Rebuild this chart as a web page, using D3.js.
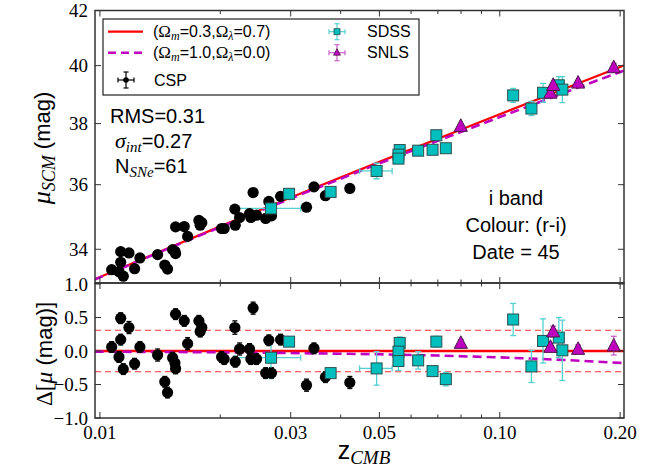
<!DOCTYPE html>
<html><head><meta charset="utf-8">
<script src="https://cdn.jsdelivr.net/npm/d3@7"></script>
<style>body{margin:0;background:#fff}</style>
</head><body><svg id="c" width="668" height="472"></svg>
<script>
// ---------- data ----------
const cspZ  = [0.01070,0.01127,0.01127,0.01182,0.01116,0.01144,0.01221,0.01259,0.01394,0.01453,0.01476,0.01520,0.01540,0.01546,0.01546,0.01625,0.01657,0.01768,0.01798,0.01781,0.02015,0.02045,0.02175,0.02180,0.02235,0.02367,0.02385,0.02416,0.02464,0.02645,0.02597,0.02686,0.02830,0.03286,0.03430,0.03664,0.04217];
const cspMu = [33.39,33.93,33.61,33.89,33.33,33.20,33.42,33.74,33.84,33.53,33.41,33.99,33.94,33.87,34.68,34.69,34.39,34.88,34.81,34.73,34.63,34.63,35.23,34.73,34.97,35.09,34.97,35.75,35.04,35.47,34.94,35.02,35.63,35.29,35.93,35.65,35.88];
const cspRes= [0.06,0.49,0.17,0.35,-0.09,-0.27,-0.19,0.06,-0.06,-0.46,-0.62,-0.10,-0.18,-0.26,0.55,0.45,0.11,0.45,0.35,0.29,-0.09,-0.12,0.35,-0.16,0.03,0.03,-0.12,0.64,-0.12,0.16,-0.33,-0.33,0.17,-0.51,0.04,-0.39,-0.47];
const cspErr= [0.08,0.08,0.08,0.09,0.08,0.08,0.08,0.08,0.09,0.08,0.08,0.08,0.08,0.08,0.08,0.08,0.09,0.08,0.08,0.08,0.08,0.08,0.10,0.08,0.09,0.08,0.08,0.09,0.08,0.08,0.08,0.08,0.08,0.09,0.08,0.08,0.09];

const sdssZ  = [0.02679,0.02972,0.03775,0.0492,0.0562,0.0558,0.0558,0.0625,0.0679,0.0694,0.0733,0.1080,0.1200,0.1283,0.1405,0.1434];
const sdssMu = [35.25,35.71,35.77,36.44,37.12,36.97,36.84,37.10,37.13,37.61,37.18,38.96,38.51,39.05,39.31,39.16];
const sdssRes= [-0.10,0.14,-0.33,-0.26,0.12,-0.01,-0.15,-0.14,-0.30,0.14,-0.42,0.47,-0.23,0.15,0.20,0.01];
const sdssErr= [0.30,0.07,0.06,0.25,0.09,0.08,0.14,0.13,0.06,0.08,0.10,0.24,0.24,0.33,0.30,0.45];
const sdssZErr=[0.0050,0,0,0.0046,0,0,0,0,0,0,0,0,0,0,0,0];

const snlsZ  = [0.0799,0.1339,0.1360,0.157,0.1928];
const snlsMu = [37.92,39.05,39.32,39.40,39.94];
const snlsRes= [0.12,0.06,0.29,0.03,0.08];
const snlsErr= [0.05,0.06,0.08,0.06,0.14];

const modelZ = [0.0097,0.015,0.02,0.03,0.05,0.07,0.1,0.15,0.2,0.2045];
const lcdmMu = [33.108,34.063,34.696,35.593,36.734,37.496,38.315,39.265,39.955,40.009];
const edsMu  = [33.098,34.048,34.676,35.563,36.685,37.428,38.220,39.128,39.778,39.827];
const edsRes = [-0.010,-0.015,-0.020,-0.030,-0.049,-0.068,-0.095,-0.137,-0.177,-0.182];
const rmsBand = 0.31;

const xMajor = [0.01,0.03,0.05,0.10,0.20];
const xMajorLabels = ["0.01","0.03","0.05","0.10","0.20"];
const xMinor = [0.02,0.04,0.06,0.07,0.08,0.09];
const yTopTicks = [34,36,38,40,42];
const yBotTicks = [1.0,0.5,0.0,-0.5,-1.0];
const yBotLabels = ["1.0","0.5","0.0","\u22120.5","\u22121.0"];

// ---------- layout ----------
const L=95,R=624,T=10.5,M=283,B=418;
const SANS="'Liberation Sans', Arial, sans-serif";
const SERIF="'Liberation Serif', 'Times New Roman', serif";
const CYAN="#00bfbf", CYANE="#55d0d0", MAG="#bf00bf", MAGE="#c860c8";

const svg=d3.select("#c");
const x=d3.scaleLog().domain([0.00972,0.2045]).range([L,R]);
const yT=d3.scaleLog().domain([33,42]).range([M,T]);
const yB=d3.scaleLinear().domain([-1,1]).range([B,M+1]);

const defs=svg.append("defs");
defs.append("clipPath").attr("id","cT").append("rect").attr("x",L).attr("y",T).attr("width",R-L).attr("height",M-T);
defs.append("clipPath").attr("id","cB").append("rect").attr("x",L).attr("y",M).attr("width",R-L).attr("height",B-M);

function panel(ys, clip, zs, mus, res){}

function drawSet(g, ys, zArr, vArr, eArr, zeArr, ecol, cap){
  const eg=g.append("g").attr("stroke",ecol).attr("stroke-width",1.3).attr("fill","none");
  zArr.forEach((z,i)=>{
    const cx=x(z), v=vArr[i], e=eArr[i];
    const y1=ys(v-e), y2=ys(v+e);
    eg.append("line").attr("x1",cx).attr("x2",cx).attr("y1",y1).attr("y2",y2);
    eg.append("line").attr("x1",cx-cap).attr("x2",cx+cap).attr("y1",y1).attr("y2",y1);
    eg.append("line").attr("x1",cx-cap).attr("x2",cx+cap).attr("y1",y2).attr("y2",y2);
    if(zeArr && zeArr[i]>0){
      const xa=x(z-zeArr[i]), xb=x(z+zeArr[i]), cy=ys(v);
      eg.append("line").attr("x1",xa).attr("x2",xb).attr("y1",cy).attr("y2",cy);
      eg.append("line").attr("x1",xa).attr("x2",xa).attr("y1",cy-cap).attr("y2",cy+cap);
      eg.append("line").attr("x1",xb).attr("x2",xb).attr("y1",cy-cap).attr("y2",cy+cap);
    }
  });
}
function circles(g, ys, zArr, vArr, r){
  g.append("g").selectAll("circle").data(zArr).join("circle")
   .attr("cx",d=>x(d)).attr("cy",(d,i)=>ys(vArr[i])).attr("r",r).attr("fill","#000");
}
function squares(g, ys, zArr, vArr, s){
  g.append("g").selectAll("rect").data(zArr).join("rect")
   .attr("x",d=>x(d)-s/2).attr("y",(d,i)=>ys(vArr[i])-s/2).attr("width",s).attr("height",s)
   .attr("fill",CYAN).attr("stroke","#2b4f4f").attr("stroke-width",1);
}
function tris(g, ys, zArr, vArr, s){
  g.append("g").selectAll("path").data(zArr).join("path")
   .attr("d",(d,i)=>{const cx=x(d), cy=ys(vArr[i]); return `M${cx},${cy-s*0.6}L${cx+s*0.55},${cy+s*0.45}L${cx-s*0.55},${cy+s*0.45}Z`;})
   .attr("fill",MAG).attr("stroke","#4a1a4a").attr("stroke-width",1);
}

// ---------- top panel ----------
const gT=svg.append("g").attr("clip-path","url(#cT)");
const lineT=d3.line().x((d,i)=>x(modelZ[i])).y(d=>yT(d));
gT.append("path").attr("d",lineT(lcdmMu)).attr("fill","none").attr("stroke","#ff0000").attr("stroke-width",2.2);
gT.append("path").attr("d",lineT(edsMu)).attr("fill","none").attr("stroke",MAG).attr("stroke-width",2.6).attr("stroke-dasharray","9,5");
drawSet(gT,yT,cspZ,cspMu,cspErr,null,"#000",2.5);
drawSet(gT,yT,sdssZ,sdssMu,sdssErr,sdssZErr,CYANE,3);
drawSet(gT,yT,snlsZ,snlsMu,snlsErr,null,MAGE,3);
circles(gT,yT,cspZ,cspMu,5.6);
squares(gT,yT,sdssZ,sdssMu,11);
tris(gT,yT,snlsZ,snlsMu,12);

// ---------- bottom panel ----------
const gB=svg.append("g").attr("clip-path","url(#cB)");
gB.append("line").attr("x1",L).attr("x2",R).attr("y1",yB(0)).attr("y2",yB(0)).attr("stroke","#ff0000").attr("stroke-width",2.6);
[rmsBand,-rmsBand].forEach(v=>gB.append("line").attr("x1",L).attr("x2",R).attr("y1",yB(v)).attr("y2",yB(v))
   .attr("stroke","#ff3030").attr("stroke-width",1.2).attr("stroke-dasharray","6,4"));
const lineB=d3.line().x((d,i)=>x(modelZ[i])).y(d=>yB(d));
gB.append("path").attr("d",lineB(edsRes)).attr("fill","none").attr("stroke",MAG).attr("stroke-width",2.6).attr("stroke-dasharray","9,5");
drawSet(gB,yB,cspZ,cspRes,cspErr,null,"#000",2.5);
drawSet(gB,yB,sdssZ,sdssRes,sdssErr,sdssZErr,CYANE,3);
drawSet(gB,yB,snlsZ,snlsRes,snlsErr,null,MAGE,3);
circles(gB,yB,cspZ,cspRes,5.6);
squares(gB,yB,sdssZ,sdssRes,11);
tris(gB,yB,snlsZ,snlsRes,12);

// ---------- frames & ticks ----------
const fr=svg.append("g").attr("stroke","#333").attr("fill","none");
fr.append("rect").attr("x",L).attr("y",T).attr("width",R-L).attr("height",M-T).attr("stroke-width",1.5);
fr.append("rect").attr("x",L).attr("y",M).attr("width",R-L).attr("height",B-M).attr("stroke-width",1.5);
const tk=svg.append("g").attr("stroke","#333").attr("stroke-width",1);
function xt(v,len){
  const px=x(v);
  [[T,1],[M,-1],[M,1],[B,-1]].forEach(([y0,dir])=>tk.append("line").attr("x1",px).attr("x2",px).attr("y1",y0).attr("y2",y0+dir*len));
}
xMajor.forEach(v=>xt(v,6)); xMinor.forEach(v=>xt(v,3.5));
yTopTicks.forEach(v=>{const py=yT(v);
  tk.append("line").attr("x1",L).attr("x2",L+6).attr("y1",py).attr("y2",py);
  tk.append("line").attr("x1",R).attr("x2",R-6).attr("y1",py).attr("y2",py);});
yBotTicks.forEach(v=>{const py=yB(v);
  tk.append("line").attr("x1",L).attr("x2",L+6).attr("y1",py).attr("y2",py);
  tk.append("line").attr("x1",R).attr("x2",R-6).attr("y1",py).attr("y2",py);});

// tick labels
const tl=svg.append("g").attr("font-family",SERIF).attr("font-size",19).attr("fill","#000");
xMajor.forEach((v,i)=>tl.append("text").attr("x",x(v)).attr("y",439).attr("text-anchor","middle").text(xMajorLabels[i]));
yTopTicks.forEach(v=>tl.append("text").attr("x",88).attr("y",yT(v)).attr("dy","0.35em").attr("text-anchor","end").text(v));
yBotTicks.forEach((v,i)=>tl.append("text").attr("x",88).attr("y",yB(v)).attr("dy","0.35em").attr("text-anchor","end").text(yBotLabels[i]));

// ---------- rich text helper ----------
function rich(x0,y0,parts,anchor,rot){
  const t=svg.append("text").attr("text-anchor",anchor||"start").attr("fill","#000");
  if(rot) t.attr("transform",`translate(${x0},${y0}) rotate(${rot})`); else t.attr("x",x0).attr("y",y0);
  parts.forEach(p=>{
    const s=t.append("tspan").text(p.t).attr("font-family",p.f==="serif"?SERIF:SANS).attr("font-size",p.s);
    if(p.it) s.attr("font-style","italic");
    if(p.dy) s.attr("dy",p.dy);
  });
  return t;
}

// axis labels
rich(50,148,[{t:"\u03bc",f:"serif",s:26,it:true},{t:"SCM",f:"serif",s:18,it:true,dy:5},{t:" (mag)",f:"sans",s:22,dy:-5}],"middle",-90);
rich(52,354,[{t:"\u0394[",f:"serif",s:23},{t:"\u03bc",f:"serif",s:24,it:true},{t:" (mag)]",f:"sans",s:22}],"middle",-90);
rich(364,459,[{t:"z",f:"sans",s:25},{t:"CMB",f:"serif",s:19,it:true,dy:5}],"middle");

// annotations
rich(110,123,[{t:"RMS=0.31",f:"sans",s:20}]);
rich(115,148,[{t:"\u03c3",f:"serif",s:22,it:true},{t:"int",f:"serif",s:15,it:true,dy:4},{t:"=0.27",f:"sans",s:20,dy:-4}]);
rich(115,173,[{t:"N",f:"sans",s:20},{t:"SNe",f:"serif",s:15,it:true,dy:4},{t:"=61",f:"sans",s:20,dy:-4}]);
rich(516,205,[{t:"i band",f:"sans",s:20}],"middle");
rich(516,232,[{t:"Colour: (r-i)",f:"sans",s:20}],"middle");
rich(516,259,[{t:"Date = 45",f:"sans",s:20}],"middle");

// ---------- legend ----------
const lg=svg.append("g");
lg.append("rect").attr("x",103).attr("y",19).attr("width",316).attr("height",76).attr("fill","#fff").attr("stroke","#222").attr("stroke-width",1.2);
lg.append("line").attr("x1",108).attr("x2",143).attr("y1",31.7).attr("y2",31.7).attr("stroke","#ff0000").attr("stroke-width",2.2);
lg.append("line").attr("x1",108).attr("x2",143).attr("y1",52.7).attr("y2",52.7).attr("stroke",MAG).attr("stroke-width",2.6).attr("stroke-dasharray","8,5");
function lcross(cx,cy,col){
  const g=lg.append("g").attr("stroke",col).attr("stroke-width",1.2);
  g.append("line").attr("x1",cx-8).attr("x2",cx+8).attr("y1",cy).attr("y2",cy);
  g.append("line").attr("x1",cx).attr("x2",cx).attr("y1",cy-8).attr("y2",cy+8);
  g.append("line").attr("x1",cx-8).attr("x2",cx-8).attr("y1",cy-2.5).attr("y2",cy+2.5);
  g.append("line").attr("x1",cx+8).attr("x2",cx+8).attr("y1",cy-2.5).attr("y2",cy+2.5);
  g.append("line").attr("x1",cx-2.5).attr("x2",cx+2.5).attr("y1",cy-8).attr("y2",cy-8);
  g.append("line").attr("x1",cx-2.5).attr("x2",cx+2.5).attr("y1",cy+8).attr("y2",cy+8);
}
lcross(126,80,"#000"); lg.append("circle").attr("cx",126).attr("cy",80).attr("r",2.8).attr("fill","#000");
lcross(337,31.7,CYANE); lg.append("rect").attr("x",337-3).attr("y",31.7-3).attr("width",6).attr("height",6).attr("fill",CYAN).attr("stroke","#2b4f4f").attr("stroke-width",0.8);
lcross(337,52.7,MAGE); lg.append("path").attr("d","M337,48.7L340.5,55.2L333.5,55.2Z").attr("fill",MAG).attr("stroke","#4a1a4a").attr("stroke-width",0.8);
rich(153,37,[{t:"(",f:"sans",s:16},{t:"\u03a9",f:"serif",s:17},{t:"m",f:"serif",s:12,it:true,dy:3},{t:"=0.3,",f:"sans",s:16,dy:-3},{t:"\u03a9",f:"serif",s:17},{t:"\u03bb",f:"serif",s:12,it:true,dy:3},{t:"=0.7)",f:"sans",s:16,dy:-3}]);
rich(153,58,[{t:"(",f:"sans",s:16},{t:"\u03a9",f:"serif",s:17},{t:"m",f:"serif",s:12,it:true,dy:3},{t:"=1.0,",f:"sans",s:16,dy:-3},{t:"\u03a9",f:"serif",s:17},{t:"\u03bb",f:"serif",s:12,it:true,dy:3},{t:"=0.0)",f:"sans",s:16,dy:-3}]);
rich(154,86,[{t:"CSP",f:"sans",s:16}]);
rich(367,37,[{t:"SDSS",f:"sans",s:16}]);
rich(367,58,[{t:"SNLS",f:"sans",s:16}]);
</script></body></html>
